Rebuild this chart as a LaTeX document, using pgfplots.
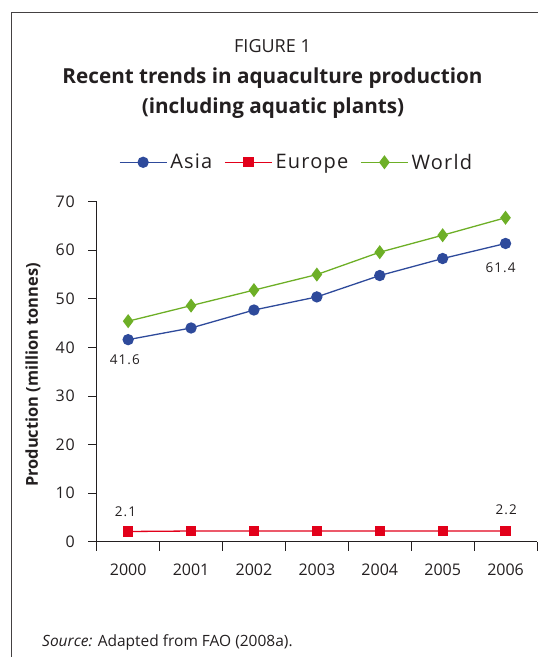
\documentclass[border=0pt]{standalone}
\usepackage{fontspec}
\setmainfont{Open Sans}
\usepackage{pgfplots}
\pgfplotsset{compat=1.18}

\definecolor{asia}{HTML}{2E4A9B}
\definecolor{europe}{HTML}{E2001A}
\definecolor{world}{HTML}{6DAF26}
\definecolor{ink}{HTML}{231F20}

\newcommand{\valfont}{\fontsize{13.5}{16}\selectfont\addfontfeature{LetterSpace=8}}

\begin{document}
\begin{tikzpicture}[x=1pt,y=1pt]
\useasboundingbox (0,0) rectangle (538,657);
% open frame around the figure
\draw[ink!85, line width=1pt] (11,0) -- (11,644) -- (538,644);
% headings
\node[anchor=base, ink, font=\fontsize{18}{22}\selectfont] at (272.5,604.7) {FIGURE 1};
\node[anchor=base, ink, font=\fontsize{20.7}{24}\selectfont\bfseries] at (272.5,573) {Recent trends in aquaculture production};
\node[anchor=base, ink, font=\fontsize{20.7}{24}\selectfont\bfseries] at (273,543.7) {(including aquatic plants)};
% source note
\node[anchor=base west, inner sep=0pt, ink, font=\fontsize{15.5}{18}\selectfont] at (42,10.3) {\textit{Source:} Adapted from FAO (2008a).};

\begin{axis}[
  at={(96.7pt,115.3pt)}, anchor=south west,
  scale only axis, width=440.3pt, height=340pt,
  xmin=-0.5, xmax=6.5, ymin=0, ymax=70,
  axis x line=bottom, axis y line=left,
  axis line style={-, ink, line width=0.9pt},
  xtick={0,1,2,3,4,5,6},
  xticklabels={2000,2001,2002,2003,2004,2005,2006},
  minor xtick={-0.5,0.5,1.5,2.5,3.5,4.5,5.5,6.5},
  ytick={0,10,20,30,40,50,60,70},
  tick align=outside,
  major tick length=8.4pt, minor tick length=9pt,
  tick style={ink, line width=0.9pt},
  major x tick style={draw=none},
  ticklabel style={ink, font=\fontsize{16}{19}\selectfont},
  xticklabel style={yshift=-10pt},
  yticklabel style={xshift=-10pt, font=\fontsize{16}{19}\selectfont\addfontfeature{LetterSpace=5}},
  /pgf/number format/assume math mode=true,
  ylabel={Production (million tonnes)},
  ylabel style={ink, font=\fontsize{16.4}{19}\selectfont\bfseries, at={(axis description cs:-0.1447,0.4903)}, anchor=center},
  legend columns=3,
  legend style={draw=none, fill=none, at={(0.0506,1.1159)}, anchor=west,
    inner sep=0pt, outer sep=0pt,
    font=\fontsize{20}{23}\selectfont\addfontfeature{LetterSpace=6}, text=ink,
    nodes={inner xsep=3pt},
    /tikz/every even column/.append style={column sep=9pt}},
  legend image code/.code={\draw[mark repeat=2,mark phase=2] plot coordinates {(0pt,0pt)(23.5pt,0pt)(47pt,0pt)};},
  clip=false,
]
\addplot[asia, line width=1.3pt, mark=*, mark size=5pt, mark options={solid}]
  coordinates {(0,41.6)(1,44.0)(2,47.7)(3,50.4)(4,54.8)(5,58.3)(6,61.4)};
\addlegendentry{Asia}
\addplot[europe, line width=1.3pt, mark=square*, mark size=4.5pt, mark options={solid}]
  coordinates {(0,2.1)(1,2.2)(2,2.2)(3,2.2)(4,2.2)(5,2.2)(6,2.2)};
\addlegendentry{Europe}
\addplot[world, line width=1.3pt, mark=diamond*, mark size=6pt, mark options={solid}]
  coordinates {(0,45.4)(1,48.6)(2,51.8)(3,55.0)(4,59.6)(5,63.1)(6,66.7)};
\addlegendentry{World}
% value labels at the ends of the series
\node[ink, font=\valfont, xshift=-3.4pt, yshift=-19.7pt] at (axis cs:0,41.6) {41.6};
\node[ink, font=\valfont, xshift=-5pt, yshift=-24.6pt] at (axis cs:6,61.4) {61.4};
\node[ink, font=\valfont, xshift=-2.7pt, yshift=19.3pt] at (axis cs:0,2.1) {2.1};
\node[ink, font=\valfont, xshift=0.7pt, yshift=21pt] at (axis cs:6,2.2) {2.2};
\end{axis}
\end{tikzpicture}
\end{document}
